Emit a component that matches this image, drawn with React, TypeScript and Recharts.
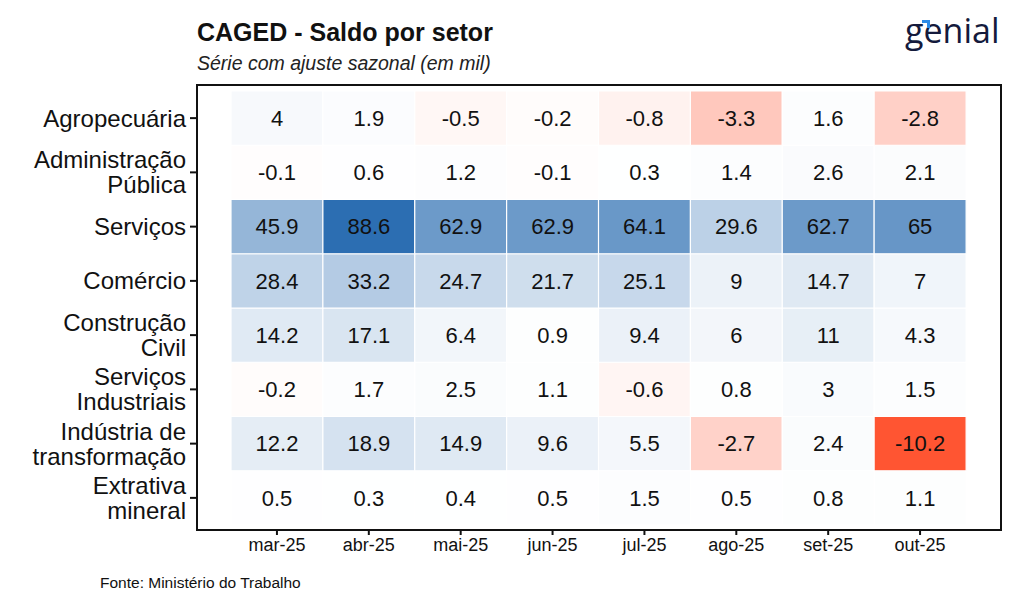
import { Bar, BarChart, Cell, LabelList, XAxis, YAxis } from "recharts";

// months on the x axis
const months = ["mar-25", "abr-25", "mai-25", "jun-25", "jul-25", "ago-25", "set-25", "out-25"];

// sectors, bottom row first (stack order)
const sectors = [
  "Extrativa\nmineral",
  "Indústria de\ntransformação",
  "Serviços\nIndustriais",
  "Construção\nCivil",
  "Comércio",
  "Serviços",
  "Administração\nPública",
  "Agropecuária",
];

const extrativa = [0.5, 0.3, 0.4, 0.5, 1.5, 0.5, 0.8, 1.1];
const industria = [12.2, 18.9, 14.9, 9.6, 5.5, -2.7, 2.4, -10.2];
const servInd = [-0.2, 1.7, 2.5, 1.1, -0.6, 0.8, 3, 1.5];
const construcao = [14.2, 17.1, 6.4, 0.9, 9.4, 6, 11, 4.3];
const comercio = [28.4, 33.2, 24.7, 21.7, 25.1, 9, 14.7, 7];
const servicos = [45.9, 88.6, 62.9, 62.9, 64.1, 29.6, 62.7, 65];
const adminPub = [-0.1, 0.6, 1.2, -0.1, 0.3, 1.4, 2.6, 2.1];
const agro = [4, 1.9, -0.5, -0.2, -0.8, -3.3, 1.6, -2.8];

const rows = [extrativa, industria, servInd, construcao, comercio, servicos, adminPub, agro];
const yTicks = [0.5, 1.5, 2.5, 3.5, 4.5, 5.5, 6.5, 7.5];

const data = months.map((m, i) => {
  const row: Record<string, string | number> = { month: m };
  rows.forEach((r, k) => {
    row[`s${k}`] = 1;
    row[`v${k}`] = r[i];
  });
  return row;
});

const maxPos = 88.6;
const maxNeg = 10.2;

function mix(a: number[], b: number[], t: number) {
  const c = a.map((x, i) => Math.round(x + (b[i] - x) * t));
  return `rgb(${c[0]},${c[1]},${c[2]})`;
}

function tileColor(v: number) {
  if (v >= 0) return mix([255, 255, 255], [44, 110, 178], Math.pow(v / maxPos, 1.05));
  return mix([255, 255, 255], [255, 85, 50], -v / maxNeg);
}

const font = "'Liberation Sans', Arial, sans-serif";

const SectorTick = (props: any) => {
  const { x, y, payload } = props;
  const idx = yTicks.indexOf(payload.value);
  const lines = (sectors[idx] ?? "").split("\n");
  const offsets = lines.length === 1 ? [0] : [-12.5, 12.5];
  return (
    <g>
      {lines.map((l, i) => (
        <text
          key={i}
          x={x}
          y={y + offsets[i]}
          textAnchor="end"
          dominantBaseline="central"
          fontSize={24}
          fill="#111"
          fontFamily={font}
        >
          {l}
        </text>
      ))}
    </g>
  );
};

export default function App() {
  return (
    <div
      style={{
        position: "absolute",
        left: 0,
        top: 0,
        width: 1024,
        height: 615,
        background: "#fff",
        fontFamily: font,
      }}
    >
      <div style={{ position: "absolute", left: 197, top: 18, fontSize: 25, fontWeight: 700, color: "#111" }}>
        CAGED - Saldo por setor
      </div>
      <div style={{ position: "absolute", left: 197, top: 52, fontSize: 19.5, fontStyle: "italic", color: "#222" }}>
        Série com ajuste sazonal (em mil)
      </div>
      <div
        style={{
          position: "absolute",
          left: 905,
          top: 8,
          fontSize: 34,
          lineHeight: "44px",
          fontFamily: "'Open Sans', sans-serif",
          fontWeight: 500,
          color: "#141a3c",
          whiteSpace: "nowrap",
        }}
      >
        genial
      </div>
      <div
        style={{
          position: "absolute",
          left: 922,
          top: 20,
          width: 5,
          height: 5,
          borderTop: "3px solid #2a8be8",
          borderRight: "3px solid #2a8be8",
        }}
      />

      <BarChart
        width={1024}
        height={615}
        data={data}
        margin={{ top: 85, right: 24, left: 7, bottom: 56 }}
        barCategoryGap={0}
      >
        <XAxis
          dataKey="month"
          padding={{ left: 34, right: 34 }}
          axisLine={false}
          tickLine={{ stroke: "#111", strokeWidth: 2 }}
          tickSize={6}
          tickMargin={3}
          height={30}
          tick={{ fill: "#111", fontSize: 18, fontFamily: font }}
        />
        <YAxis
          type="number"
          domain={[0, 8]}
          ticks={yTicks}
          width={190}
          padding={{ top: 6, bottom: 4 }}
          axisLine={false}
          tickLine={{ stroke: "#111", strokeWidth: 2 }}
          tickSize={7}
          tickMargin={4}
          tick={<SectorTick />}
          interval={0}
          allowDataOverflow
        />
        {rows.map((r, k) => (
          <Bar
            key={k}
            dataKey={`s${k}`}
            stackId="grid"
            isAnimationActive={false}
            stroke="#fff"
            strokeWidth={1.2}
          >
            {r.map((v, i) => (
              <Cell key={i} fill={tileColor(v)} />
            ))}
            <LabelList
              dataKey={`v${k}`}
              position="center"
              fill="#111"
              fontSize={22}
              fontFamily={font}
            />
          </Bar>
        ))}
      </BarChart>

      <div
        style={{
          position: "absolute",
          left: 196,
          top: 84,
          width: 802,
          height: 443,
          border: "2px solid #111",
          pointerEvents: "none",
        }}
      />
      <div style={{ position: "absolute", left: 100, top: 574, fontSize: 15.5, color: "#111" }}>
        Fonte: Ministério do Trabalho
      </div>
    </div>
  );
}
